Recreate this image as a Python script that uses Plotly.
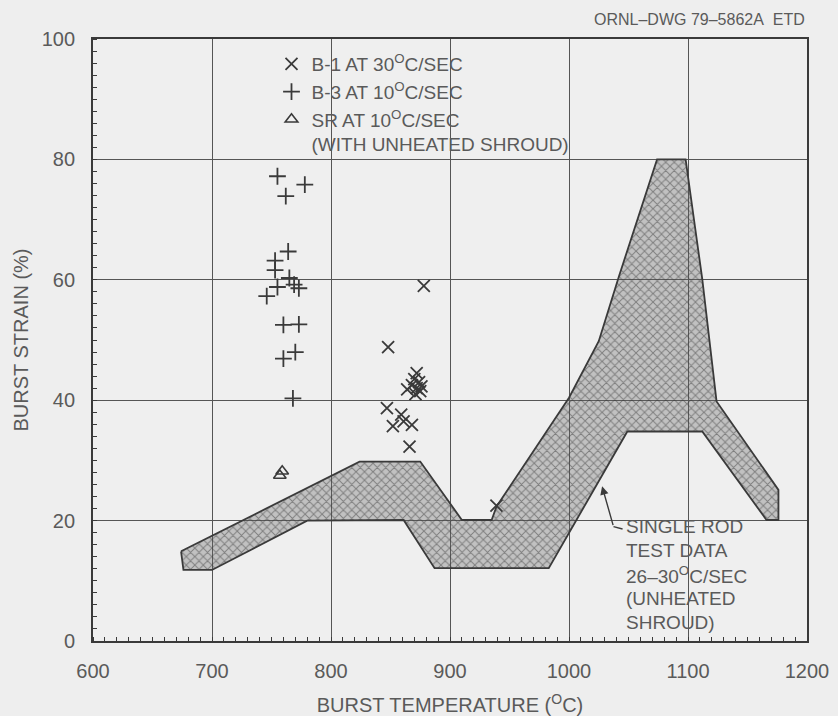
import plotly.graph_objects as go

# ---- measured burst data ------------------------------------------------
# B-1 bundle, 30 C/s heating
b1_temp = [878, 848, 872, 870, 874, 868, 872, 864, 875, 871, 876,
           847, 859, 852, 868, 861, 866, 939]
b1_strain = [59.0, 48.8, 44.5, 43.5, 43.0, 42.5, 42.0, 41.8, 41.5, 41.0, 42.3,
             38.7, 37.6, 35.7, 35.9, 36.5, 32.3, 22.5]

# B-3 bundle, 10 C/s heating
b3_temp = [755, 778, 762, 764, 753, 753, 765, 769, 773, 755, 746,
           760, 773, 770, 760, 768]
b3_strain = [77.2, 75.8, 73.9, 64.7, 63.2, 61.6, 60.3, 59.2, 58.6, 58.8, 57.3,
             52.5, 52.6, 48.0, 46.9, 40.3]

# single-rod tests with unheated shroud, 10 C/s
sr_temp = [757, 759]
sr_strain = [27.5, 28.2]

# outline of the single-rod scatter band (26-30 C/s)
band_temp = [674, 824, 875, 910, 935, 939, 1000, 1025, 1042, 1074, 1098,
             1112, 1124, 1176, 1176, 1166, 1112, 1049, 983, 887, 861,
             780, 700, 676, 674]
band_strain = [14.9, 29.8, 29.8, 20.1, 20.1, 22.3, 40.4, 49.8, 60.6, 80.0, 80.0,
               60.1, 39.8, 25.1, 20.1, 20.1, 34.8, 34.8, 12.1, 12.1, 20.1,
               20.0, 11.8, 11.8, 14.9]

note_lines = ["SINGLE ROD", "TEST DATA", "26–30<sup>O</sup>C/SEC",
              "(UNHEATED", "SHROUD)"]

x_ticks = [600, 700, 800, 900, 1000, 1100, 1200]
y_ticks = [0, 20, 40, 60, 80, 100]

INK = "#3a3a3a"
TXT = "#5a5a5a"
FONT = "Liberation Sans"

fig = go.Figure()

fig.add_trace(go.Scatter(
    x=band_temp, y=band_strain, mode="lines", fill="toself",
    line=dict(color=INK, width=1.8),
    fillcolor="rgba(0,0,0,0)",
    fillpattern=dict(shape="x", fgcolor="#3c3c3c",
                     bgcolor="rgba(100,100,100,0.33)", size=6, solidity=0.3),
    showlegend=False, hoverinfo="skip"))

fig.add_trace(go.Scatter(
    x=b1_temp, y=b1_strain, mode="markers",
    name="B-1 AT 30<sup>O</sup>C/SEC",
    marker=dict(symbol="x-thin", size=12, color=INK,
                line=dict(color=INK, width=1.8))))

fig.add_trace(go.Scatter(
    x=b3_temp, y=b3_strain, mode="markers",
    name="B-3 AT 10<sup>O</sup>C/SEC",
    marker=dict(symbol="cross-thin", size=12, color=INK,
                line=dict(color=INK, width=1.8))))

fig.add_trace(go.Scatter(
    x=sr_temp, y=sr_strain, mode="markers",
    name="SR AT 10<sup>O</sup>C/SEC<br>(WITH UNHEATED SHROUD)",
    marker=dict(symbol="triangle-up-open", size=11, color=INK,
                line=dict(color=INK, width=1.6))))

# leader from the band to its label
fig.add_annotation(x=1027.8, y=25.7, ax=1037.4, ay=19.0, axref="x", ayref="y",
                   text="", showarrow=True, arrowhead=2, arrowsize=1.2,
                   arrowwidth=1.4, arrowcolor=INK)
fig.add_trace(go.Scatter(x=[1037.4, 1045.0], y=[19.0, 18.6], mode="lines",
                         line=dict(color=INK, width=1.4),
                         showlegend=False, hoverinfo="skip"))

for i, line in enumerate(note_lines):
    fig.add_annotation(x=1046, y=19.0, xanchor="left", yanchor="middle",
                       yshift=-24 * i, text=line, showarrow=False,
                       font=dict(family=FONT, size=19, color=TXT))

fig.add_annotation(xref="paper", yref="paper", x=1.0, y=1.033,
                   xanchor="right", yanchor="middle",
                   text="ORNL–DWG 79–5862A\u00a0\u00a0ETD", showarrow=False,
                   font=dict(family=FONT, size=16, color=TXT))

axis_common = dict(
    showgrid=True, gridcolor="#555555", gridwidth=1.2,
    showline=True, linecolor=INK, linewidth=1.8, mirror=True,
    ticks="", zeroline=False, automargin=False,
    tickfont=dict(family=FONT, size=20, color=TXT),
    title_font=dict(family=FONT, size=20, color=TXT),
)

fig.update_xaxes(range=[600, 1200], tickvals=x_ticks,
                 title_text="BURST TEMPERATURE (<sup>O</sup>C)",
                 title_standoff=24, ticklabelstandoff=11,
                 minor=dict(ticks="inside", ticklen=4, tickcolor=INK,
                            tickwidth=1.2, dtick=10, showgrid=False),
                 **axis_common)
fig.update_yaxes(range=[0, 100], tickvals=y_ticks,
                 title_text="BURST STRAIN (%)",
                 title_standoff=8, ticklabelstandoff=12,
                 minor=dict(ticks="inside", ticklen=4, tickcolor=INK,
                            tickwidth=1.2, dtick=2, showgrid=False),
                 **axis_common)

fig.update_layout(
    width=838, height=716,
    margin=dict(l=93, r=31, t=39, b=75),
    paper_bgcolor="#eeeeee", plot_bgcolor="#efefef",
    font=dict(family=FONT, color=TXT),
    legend=dict(x=0.25, y=0.99, xanchor="left", yanchor="top",
                bgcolor="rgba(0,0,0,0)", valign="top", itemwidth=30,
                font=dict(family=FONT, size=19, color=TXT)),
)

fig.write_html("out.html")
